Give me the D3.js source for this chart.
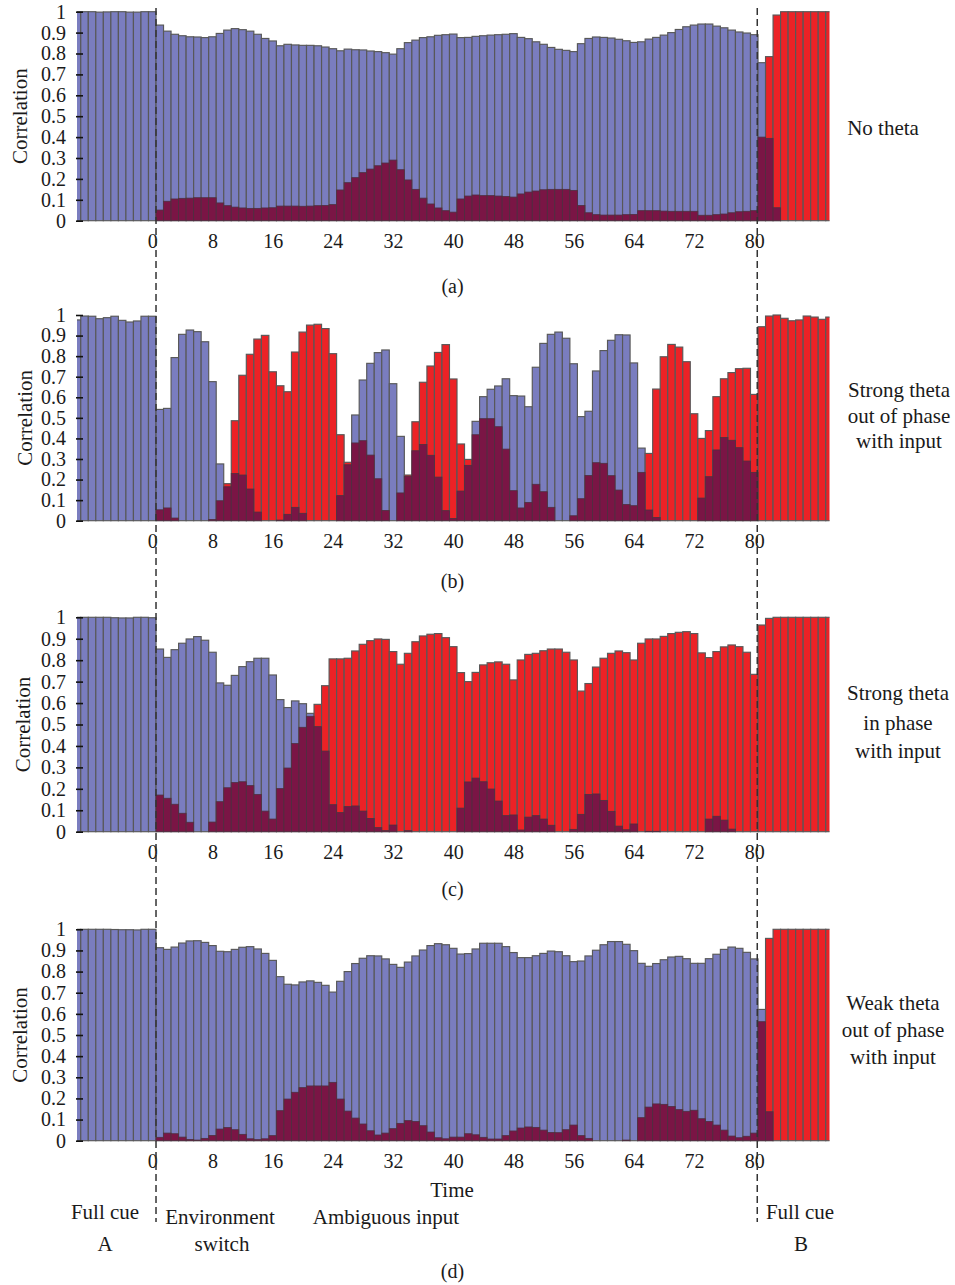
<!DOCTYPE html>
<html>
<head>
<meta charset="utf-8">
<script src="https://cdn.jsdelivr.net/npm/d3@7"></script>
<style>
  body { margin: 0; background: #fff; }
  text { font-family: "Liberation Serif", "DejaVu Serif", serif; fill: #1a1a1a; }
</style>
</head>
<body>
<svg id="chart" width="955" height="1285"></svg>
<script>
// time steps: -10 .. 90, one bar each
const times = d3.range(-10, 91);
const xTicks = [0, 8, 16, 24, 32, 40, 48, 56, 64, 72, 80];
const yTicks = [0, 0.1, 0.2, 0.3, 0.4, 0.5, 0.6, 0.7, 0.8, 0.9, 1];
const yTickLabels = ["0", "0.1", "0.2", "0.3", "0.4", "0.5", "0.6", "0.7", "0.8", "0.9", "1"];
const switchTimes = [0.5, 80.4];

// correlation with environment A (blue) and B (red)
const blueA = [
  1, 1, 1, 0.998, 0.999, 1, 1, 0.998, 0.998, 1, 1,
  0.936, 0.907, 0.892, 0.885, 0.880, 0.879, 0.876, 0.880, 0.896, 0.912, 0.919, 0.914, 0.907, 0.892, 0.872, 0.860,
  0.837, 0.844, 0.841, 0.839, 0.839, 0.837, 0.831, 0.823, 0.813, 0.821, 0.818, 0.817, 0.812, 0.809, 0.804, 0.797,
  0.823, 0.852, 0.864, 0.876, 0.880, 0.887, 0.890, 0.893, 0.876, 0.877, 0.882,
  0.885, 0.888, 0.890, 0.892, 0.895, 0.877, 0.871, 0.856, 0.844, 0.829, 0.820, 0.815, 0.809, 0.847, 0.872, 0.879,
  0.877, 0.874, 0.868, 0.861, 0.853, 0.856, 0.869, 0.877, 0.888, 0.900, 0.915, 0.928, 0.936, 0.941, 0.941, 0.931,
  0.923, 0.912, 0.903, 0.898, 0.890,
  0.756, 0.394, 0.062, 0, 0, 0, 0, 0, 0, 0
];
const redA = [
  0, 0, 0, 0, 0, 0, 0, 0, 0, 0, 0,
  0.051, 0.093, 0.104, 0.107, 0.108, 0.110, 0.110, 0.110, 0.085, 0.072, 0.065, 0.061, 0.059, 0.059, 0.061, 0.062,
  0.070, 0.070, 0.070, 0.069, 0.070, 0.072, 0.073, 0.077, 0.147, 0.182, 0.206, 0.230, 0.247, 0.263, 0.276, 0.290,
  0.244, 0.195, 0.150, 0.108, 0.080, 0.061, 0.048, 0.041, 0.104, 0.118, 0.123,
  0.120, 0.120, 0.118, 0.116, 0.113, 0.128, 0.137, 0.142, 0.148, 0.150, 0.150, 0.150, 0.145, 0.073, 0.038, 0.029,
  0.027, 0.027, 0.027, 0.029, 0.030, 0.048, 0.048, 0.048, 0.046, 0.045, 0.045, 0.045, 0.045, 0.026, 0.026, 0.029,
  0.032, 0.038, 0.043, 0.045, 0.048,
  0.400, 0.785, 0.984, 1, 1, 1, 1, 1, 1, 1
];

const blueB = [
  0.976, 0.995, 0.994, 0.982, 0.987, 0.994, 0.974, 0.966, 0.971, 0.994, 0.994,
  0.541, 0.546, 0.793, 0.906, 0.927, 0.919, 0.870, 0.676, 0.276, 0.165, 0.229, 0.222, 0.154, 0.042, 0, 0,
  0.003, 0.031, 0.065, 0.036, 0, 0, 0, 0, 0.122, 0.272, 0.514, 0.684, 0.765, 0.817, 0.830, 0.666,
  0.410, 0.216, 0.340, 0.370, 0.318, 0.212, 0.049, 0.011, 0.144, 0.269, 0.483,
  0.603, 0.639, 0.655, 0.690, 0.608, 0.606, 0.554, 0.746, 0.862, 0.906, 0.917, 0.887, 0.763, 0.506, 0.532, 0.728,
  0.827, 0.877, 0.904, 0.903, 0.767, 0.353, 0.052, 0.016, 0, 0, 0, 0, 0, 0.110, 0.214, 0.344,
  0.404, 0.391, 0.355, 0.290, 0.235,
  0, 0, 0, 0, 0, 0, 0, 0, 0, 0
];
const redB = [
  0, 0, 0, 0, 0, 0, 0, 0, 0, 0, 0,
  0.053, 0.062, 0.013, 0, 0, 0, 0, 0.006, 0.097, 0.180, 0.486, 0.707, 0.809, 0.883, 0.901, 0.724,
  0.656, 0.627, 0.820, 0.917, 0.951, 0.955, 0.934, 0.812, 0.418, 0.284, 0.378, 0.389, 0.319, 0.204, 0.050, 0,
  0.135, 0.222, 0.481, 0.673, 0.752, 0.818, 0.856, 0.689, 0.373, 0.298, 0.418,
  0.496, 0.496, 0.457, 0.348, 0.146, 0.062, 0.089, 0.177, 0.141, 0.065, 0, 0, 0.024, 0.107, 0.220, 0.282,
  0.279, 0.219, 0.149, 0.079, 0.073, 0.235, 0.327, 0.640, 0.797, 0.857, 0.844, 0.773, 0.520, 0.400, 0.438, 0.603,
  0.690, 0.720, 0.739, 0.741, 0.614,
  0.943, 0.995, 1, 0.984, 0.972, 0.976, 0.995, 0.990, 0.979, 0.990
];

const blueC = [
  1, 1, 1, 1, 1, 0.998, 0.997, 0.997, 1, 1, 0.998,
  0.852, 0.813, 0.849, 0.879, 0.899, 0.910, 0.893, 0.837, 0.694, 0.683, 0.729, 0.770, 0.793, 0.809, 0.809, 0.731,
  0.616, 0.579, 0.610, 0.597, 0.552, 0.490, 0.376, 0.126, 0.089, 0.117, 0.120, 0.096, 0.062, 0.019, 0.005, 0.031,
  0, 0.005, 0, 0, 0, 0, 0, 0, 0.110, 0.232, 0.250,
  0.233, 0.199, 0.143, 0.075, 0.078, 0.008, 0.068, 0.075, 0.059, 0.030, 0, 0, 0.011, 0.081, 0.174, 0.176,
  0.146, 0.095, 0.026, 0.009, 0.036, 0, 0.002, 0.002, 0, 0, 0, 0, 0, 0, 0.059, 0.072,
  0.054, 0.012, 0, 0, 0,
  0, 0, 0, 0, 0, 0, 0, 0, 0, 0
];
const redC = [
  0, 0, 0, 0, 0, 0, 0, 0, 0, 0, 0,
  0.171, 0.156, 0.128, 0.086, 0.044, 0, 0, 0.045, 0.140, 0.205, 0.229, 0.233, 0.215, 0.174, 0.096, 0.059,
  0.201, 0.297, 0.411, 0.487, 0.538, 0.594, 0.681, 0.806, 0.806, 0.809, 0.843, 0.874, 0.891, 0.899, 0.897, 0.840,
  0.781, 0.832, 0.886, 0.913, 0.921, 0.924, 0.905, 0.863, 0.742, 0.700, 0.743,
  0.778, 0.788, 0.792, 0.781, 0.708, 0.801, 0.827, 0.832, 0.844, 0.852, 0.852, 0.837, 0.801, 0.656, 0.691, 0.768,
  0.809, 0.832, 0.843, 0.835, 0.801, 0.879, 0.899, 0.899, 0.911, 0.924, 0.930, 0.933, 0.924, 0.834, 0.812, 0.840,
  0.862, 0.871, 0.863, 0.837, 0.734,
  0.964, 0.995, 1, 1, 1, 1, 1, 1, 1, 1
];

const blueD = [
  1, 1, 1, 1, 1, 0.999, 0.998, 0.998, 0.997, 1, 1,
  0.913, 0.905, 0.916, 0.935, 0.945, 0.946, 0.938, 0.923, 0.896, 0.894, 0.905, 0.915, 0.918, 0.907, 0.886, 0.853,
  0.776, 0.740, 0.737, 0.751, 0.756, 0.749, 0.735, 0.703, 0.754, 0.800, 0.838, 0.863, 0.875, 0.874, 0.860, 0.834,
  0.820, 0.845, 0.874, 0.902, 0.923, 0.932, 0.927, 0.910, 0.883, 0.885, 0.907,
  0.934, 0.934, 0.934, 0.918, 0.890, 0.866, 0.866, 0.875, 0.886, 0.897, 0.894, 0.875, 0.847, 0.850, 0.874, 0.901,
  0.927, 0.942, 0.942, 0.929, 0.899, 0.839, 0.825, 0.838, 0.856, 0.869, 0.872, 0.861, 0.839, 0.839, 0.861, 0.882,
  0.905, 0.916, 0.910, 0.891, 0.860,
  0.621, 0.137, 0, 0, 0, 0, 0, 0, 0, 0
];
const redD = [
  0, 0, 0, 0, 0, 0, 0, 0, 0, 0, 0,
  0.016, 0.036, 0.033, 0.017, 0.006, 0.003, 0.011, 0.025, 0.055, 0.062, 0.052, 0.030, 0.009, 0.005, 0.009, 0.024,
  0.142, 0.197, 0.229, 0.251, 0.259, 0.259, 0.259, 0.276, 0.197, 0.140, 0.107, 0.079, 0.047, 0.027, 0.036, 0.057,
  0.082, 0.095, 0.091, 0.071, 0.041, 0.014, 0.009, 0.017, 0.017, 0.033, 0.028,
  0.016, 0.008, 0.008, 0.024, 0.046, 0.060, 0.065, 0.063, 0.050, 0.039, 0.038, 0.052, 0.074, 0.024, 0.011, 0,
  0, 0, 0, 0.003, 0, 0.109, 0.159, 0.174, 0.172, 0.162, 0.147, 0.139, 0.144, 0.104, 0.091, 0.074,
  0.050, 0.022, 0.014, 0.021, 0.036,
  0.563, 0.957, 1, 1, 1, 1, 1, 1, 1, 1
];

const panelLetters = ["(a)", "(b)", "(c)", "(d)"];
const panelNotes = [
  ["No theta"],
  ["Strong theta", "out of phase", "with input"],
  ["Strong theta", "in phase", "with input"],
  ["Weak theta", "out of phase", "with input"]
];

const colBlue = "#7a7dbf", colRed = "#ec2226", colBoth = "#7a1545";

// layout of the four stacked panels
const panels = [
  { blue: blueA, red: redA, top: 11.7, bottom: 220.7, ylabX: 19.5, letterY: 293, noteX: 883, noteY: [135] },
  { blue: blueB, red: redB, top: 315, bottom: 520.7, ylabX: 25, letterY: 588, noteX: 899, noteY: [397, 423, 448] },
  { blue: blueC, red: redC, top: 617.3, bottom: 831.7, ylabX: 23, letterY: 896, noteX: 898, noteY: [700, 730, 758] },
  { blue: blueD, red: redD, top: 929.3, bottom: 1140.7, ylabX: 19.5, letterY: 1278, noteX: 893, noteY: [1010, 1037, 1064] }
];

const svg = d3.select('#chart');
const x = d3.scaleLinear().domain([-10, 90]).range([77, 829.5]);
const bw = x(1) - x(0);

svg.append('defs').append('clipPath').attr('id', 'plotclip')
  .append('rect').attr('x', x(-10)).attr('y', 0)
  .attr('width', x(90) - x(-10)).attr('height', 1285);

panels.forEach((p, i) => {
  const y = d3.scaleLinear().domain([0, 1]).range([p.bottom, p.top]);
  const rows = times.map((t, k) => ({ t, a: p.blue[k], b: p.red[k] }));
  const g = svg.append('g');
  const bars = g.append('g').attr('clip-path', 'url(#plotclip)');

  // taller of the two correlations, in its own colour
  bars.selectAll('rect.hi').data(rows).join('rect')
    .attr('class', 'hi')
    .attr('x', d => x(d.t - 0.5))
    .attr('width', bw)
    .attr('y', d => y(Math.max(d.a, d.b)))
    .attr('height', d => y(0) - y(Math.max(d.a, d.b)))
    .attr('fill', d => d.a >= d.b ? colBlue : colRed)
    .attr('stroke', '#585858')
    .attr('stroke-width', 1.15);

  // overlap of both bars
  bars.selectAll('rect.lo').data(rows.filter(d => Math.min(d.a, d.b) > 0)).join('rect')
    .attr('class', 'lo')
    .attr('x', d => x(d.t - 0.5))
    .attr('width', bw)
    .attr('y', d => y(Math.min(d.a, d.b)))
    .attr('height', d => y(0) - y(Math.min(d.a, d.b)))
    .attr('fill', colBoth)
    .attr('stroke', '#4e3040')
    .attr('stroke-width', 0.8);

  const yAxis = g.append('g')
    .attr('transform', `translate(${x(-10) + 6},0)`)
    .call(d3.axisLeft(y).tickValues(yTicks).tickSize(7).tickPadding(10)
      .tickFormat((d, k) => yTickLabels[k]));
  yAxis.select('.domain').remove();
  yAxis.selectAll('line').attr('stroke', '#111').attr('stroke-width', 1.6);
  yAxis.selectAll('text').attr('font-size', 20).attr('font-family', '"Liberation Serif", serif').attr('fill', '#1a1a1a');

  const xAxis = g.append('g')
    .attr('transform', `translate(0,${p.bottom})`)
    .call(d3.axisBottom(x).tickValues(xTicks).tickSize(0).tickPadding(13));
  xAxis.select('.domain').remove();
  xAxis.selectAll('text').attr('font-size', 20).attr('font-family', '"Liberation Serif", serif').attr('fill', '#1a1a1a');

  g.append('text')
    .attr('transform', `translate(${p.ylabX + 7},${(p.top + p.bottom) / 2}) rotate(-90)`)
    .attr('text-anchor', 'middle')
    .attr('font-size', 21)
    .text('Correlation');

  g.append('text')
    .attr('x', 452.5).attr('y', p.letterY)
    .attr('text-anchor', 'middle')
    .attr('font-size', 20)
    .text(panelLetters[i]);

  panelNotes[i].forEach((line, k) => {
    g.append('text')
      .attr('x', p.noteX).attr('y', p.noteY[k])
      .attr('text-anchor', 'middle')
      .attr('font-size', 21)
      .text(line);
  });
});

// dashed markers at the environment switch and the return of the full cue
svg.selectAll('line.switch').data(switchTimes).join('line')
  .attr('class', 'switch')
  .attr('x1', d => x(d)).attr('x2', d => x(d))
  .attr('y1', 8).attr('y2', 1222)
  .attr('stroke', '#333')
  .attr('stroke-width', 1.5)
  .attr('stroke-dasharray', '7,4');

const bottomText = [
  { s: "Time", x: 452, y: 1197 },
  { s: "Full cue", x: 105, y: 1219 },
  { s: "A", x: 105, y: 1251 },
  { s: "Environment", x: 220, y: 1224 },
  { s: "switch", x: 222, y: 1251 },
  { s: "Ambiguous input", x: 386, y: 1224 },
  { s: "Full cue", x: 800, y: 1219 },
  { s: "B", x: 801, y: 1251 }
];
svg.selectAll('text.note').data(bottomText).join('text')
  .attr('class', 'note')
  .attr('x', d => d.x).attr('y', d => d.y)
  .attr('text-anchor', 'middle')
  .attr('font-size', 21)
  .text(d => d.s);
</script>
</body>
</html>
